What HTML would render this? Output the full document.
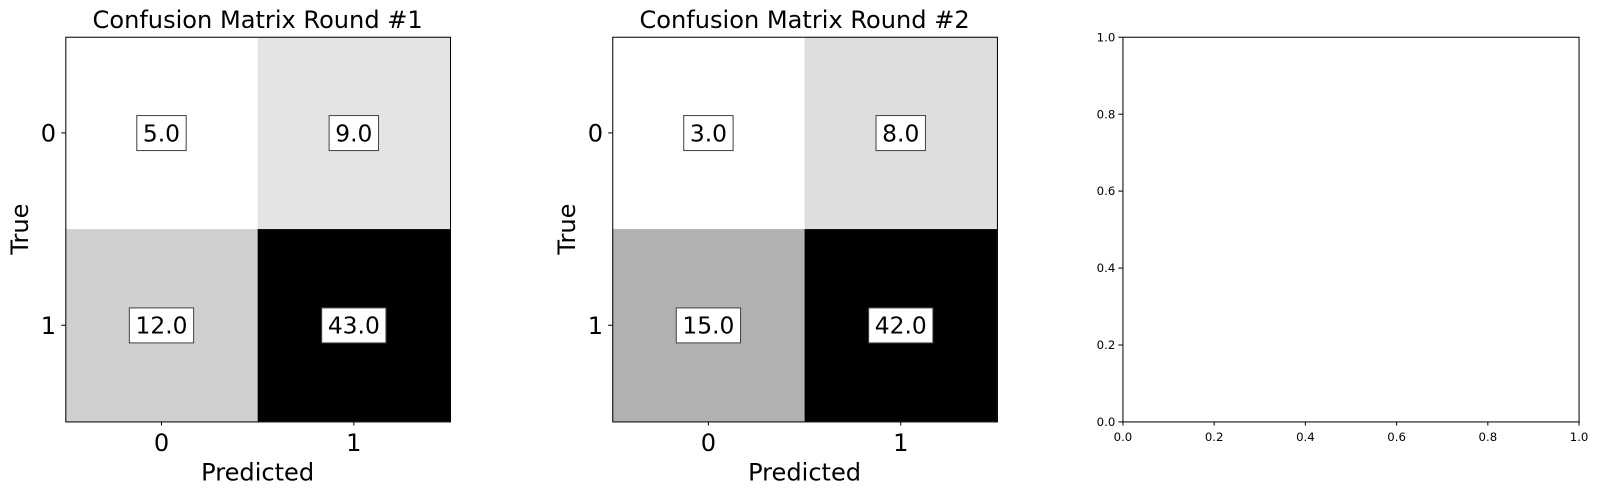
<!DOCTYPE html>
<html><head><meta charset="utf-8"><style>
html,body{margin:0;padding:0;background:#fff;}
svg{display:block;font-family:"DejaVu Sans","Liberation Sans",sans-serif;}
</style></head><body>
<svg id="chart" width="1600" height="495" viewBox="0 0 1600 495"><g id="root" transform="scale(1.0204)"></g></svg>
<script>
const classLabels = ["0", "1"];
const round1Values = [[5, 9], [12, 43]];
const round2Values = [[3, 8], [15, 42]];
const panelTitles = ["Confusion Matrix Round #1", "Confusion Matrix Round #2"];
const emptyTicks = ["0.0", "0.2", "0.4", "0.6", "0.8", "1.0"];

const NS = "http://www.w3.org/2000/svg";
const svg = document.getElementById("root");
const FS = 23.6, VFS = 22.9;
function mk(tag, attrs, parent) {
  const e = document.createElementNS(NS, tag);
  for (const k in attrs) e.setAttribute(k, attrs[k]);
  (parent || svg).appendChild(e);
  return e;
}

function drawMatrix(x0, values, title, idx) {
  const y0 = 36, size = 377;
  const g = mk("g", {});
  
  
  const n = values.length;
  const cell = size / n;
  const flat = values.flat();
  const mn = Math.min(...flat), mx = Math.max(...flat);
  const xs = i => x0 + cell * (i + 0.5);
  const ys = i => y0 + cell * (i + 0.5);
  for (let r = 0; r < n; r++) for (let c = 0; c < n; c++) {
    const v = values[r][c];
    const t = mx === mn ? 0 : (v - mn) / (mx - mn);
    const gv = Math.round(255 * (1 - t));
    const rect = mk("rect", {x: xs(c) - cell / 2, y: ys(r) - cell / 2, width: cell, height: cell, fill: `rgb(${gv},${gv},${gv})`}, g);
    
    
  }
  for (let r = 0; r < n; r++) for (let c = 0; c < n; c++) {
    const txt = values[r][c].toFixed(1);
    const box = mk("rect", {fill: "#fff", stroke: "#444", "stroke-width": 1}, g);
    
    
    const t = mk("text", {x: xs(c), y: ys(r) + 8.3, "font-size": VFS, "text-anchor": "middle", fill: "#000"}, g);
    t.textContent = txt;
    
    
    let w = t.getComputedTextLength ? t.getComputedTextLength() : txt.length * 13;
    if (!w) w = txt.length * 13;
    w += 12;
    box.setAttribute("x", xs(c) - w / 2);
    box.setAttribute("y", ys(r) - 17);
    box.setAttribute("width", w);
    box.setAttribute("height", 34.3);
  }
  const frame = mk("rect", {x: x0 + 0.5, y: y0 + 0.5, width: size, height: size, fill: "none", stroke: "#000", "stroke-width": 1}, g);
  
  
  for (let i = 0; i < n; i++) {
    mk("line", {x1: xs(i), x2: xs(i), y1: y0 + size, y2: y0 + size + 4, stroke: "#000"}, g);
    mk("line", {x1: x0 - 4, x2: x0, y1: ys(i), y2: ys(i), stroke: "#000"}, g);
    const xt = mk("text", {x: xs(i), y: y0 + size + 29, "font-size": FS, "text-anchor": "middle"}, g);
    xt.textContent = classLabels[i];
    
    
    const yt = mk("text", {x: x0 - 9, y: ys(i) + 8.5, "font-size": FS, "text-anchor": "end"}, g);
    yt.textContent = classLabels[i];
    
    
  }
  const tt = mk("text", {x: x0 + size / 2, y: 27.5, "font-size": FS, "text-anchor": "middle"}, g);
  tt.textContent = title;
  
  
  const xl = mk("text", {x: x0 + size / 2, y: 471, "font-size": FS, "text-anchor": "middle"}, g);
  xl.textContent = "Predicted";
  
  
  const yl = mk("text", {x: 0, y: 0, "font-size": FS, "text-anchor": "middle", transform: `translate(${x0 - 36.5},${y0 + size / 2}) rotate(-90)`}, g);
  yl.textContent = "True";
  
  
}
drawMatrix(64, round1Values, panelTitles[0], 0);
drawMatrix(600, round2Values, panelTitles[1], 1);

(function () {
  const x0 = 1100, x1 = 1547, y0 = 36, y1 = 413;
  const g = mk("g", {});
  
  
  const fr = mk("rect", {x: x0 + 0.5, y: y0 + 0.5, width: x1 - x0, height: y1 - y0, fill: "none", stroke: "#000"}, g);
  
  
  emptyTicks.forEach((lab, i) => {
    const v = parseFloat(lab);
    const px = x0 + v * (x1 - x0) + 0.5;
    const py = y1 - v * (y1 - y0) + 0.5;
    mk("line", {x1: px, x2: px, y1: y1, y2: y1 + 4, stroke: "#000"}, g);
    mk("line", {x1: x0 - 4, x2: x0, y1: py, y2: py, stroke: "#000"}, g);
    const xt = mk("text", {x: px, y: y1 + 19, "font-size": 11.5, "text-anchor": "middle"}, g);
    xt.textContent = lab;
    
    
    const yt = mk("text", {x: x0 - 7, y: py + 4, "font-size": 11.5, "text-anchor": "end"}, g);
    yt.textContent = lab;
    
    
  });
})();
</script>
</body></html>
